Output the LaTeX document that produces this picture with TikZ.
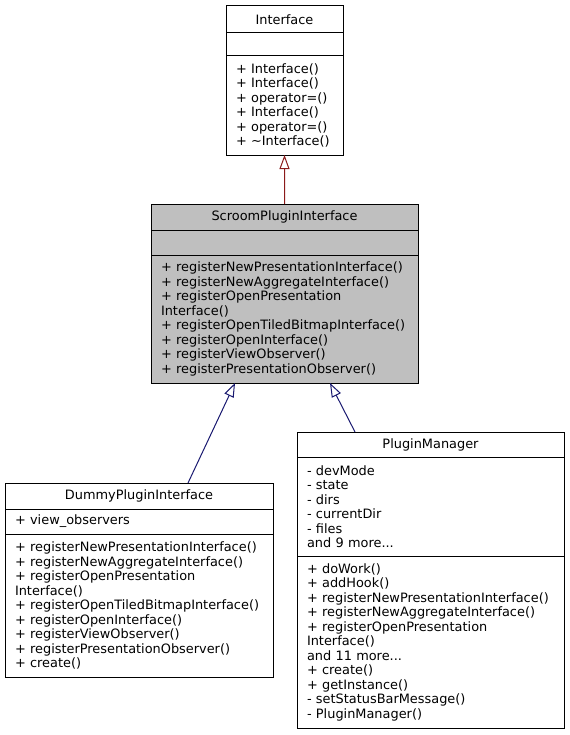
\documentclass[tikz,border=0pt]{standalone}
\usepackage{fontspec}
\setmainfont{DejaVu Sans}
\usetikzlibrary{arrows.meta,positioning,calc}
\definecolor{pubblue}{HTML}{191970}
\definecolor{privred}{HTML}{8B1A1A}
\definecolor{basegray}{HTML}{BFBFBF}
\tikzset{
  classbox/.style={draw=black, line width=1bp, outer sep=0pt, inner sep=0pt,
    font=\fontsize{12.9bp}{14.5bp}\selectfont},
  classname/.style={classbox, minimum height=26bp},
  classpart/.style={classbox, align=left, inner xsep=10bp, inner ysep=6bp},
  inherit/.style={line width=1bp, -{Triangle[open,length=14bp,width=10bp,fill=white]}}
}

\begin{document}
\begin{tikzpicture}[x=1bp,y=-1bp]
\useasboundingbox (0,0) rectangle (570,735);

% base class
\node[classname, minimum width=117bp, minimum height=27bp, anchor=north west] (ifName) at (226,6) {Interface};
\node[classpart, text width=97bp, minimum height=23bp, below=0pt of ifName] (ifAttr) {};
\node[classpart, text width=97bp, minimum height=99bp, below=0pt of ifAttr] (ifOps) {%
+ Interface()\\
+ Interface()\\
+ operator=()\\
+ Interface()\\
+ operator=()\\
+ \textasciitilde Interface()};

% the class of this page
\node[classname, fill=basegray, minimum width=267bp, anchor=north west] (scName) at (151,204) {ScroomPluginInterface};
\node[classpart, fill=basegray, text width=247bp, minimum height=25bp, below=0pt of scName] (scAttr) {};
\node[classpart, fill=basegray, text width=247bp, minimum height=128bp, below=0pt of scAttr] (scOps) {%
+ registerNewPresentationInterface()\\
+ registerNewAggregateInterface()\\
+ registerOpenPresentation\\
Interface()\\
+ registerOpenTiledBitmapInterface()\\
+ registerOpenInterface()\\
+ registerViewObserver()\\
+ registerPresentationObserver()};

% derived classes
\node[classname, minimum width=268bp, anchor=north west] (dmName) at (5,483) {DummyPluginInterface};
\node[classpart, text width=248bp, minimum height=25bp, below=0pt of dmName] (dmAttr) {+ view\_observers};
\node[classpart, text width=248bp, minimum height=143bp, below=0pt of dmAttr] (dmOps) {%
+ registerNewPresentationInterface()\\
+ registerNewAggregateInterface()\\
+ registerOpenPresentation\\
Interface()\\
+ registerOpenTiledBitmapInterface()\\
+ registerOpenInterface()\\
+ registerViewObserver()\\
+ registerPresentationObserver()\\
+ create()};

\node[classname, minimum width=267bp, minimum height=25bp, anchor=north west] (pmName) at (297,432) {PluginManager};
\node[classpart, text width=247bp, minimum height=99bp, below=0pt of pmName] (pmAttr) {%
- devMode\\
- state\\
- dirs\\
- currentDir\\
- files\\
and 9 more...};
\node[classpart, text width=247bp, minimum height=172bp, below=0pt of pmAttr] (pmOps) {%
+ doWork()\\
+ addHook()\\
+ registerNewPresentationInterface()\\
+ registerNewAggregateInterface()\\
+ registerOpenPresentation\\
Interface()\\
and 11 more...\\
+ create()\\
+ getInstance()\\
- setStatusBarMessage()\\
- PluginManager()};

% inheritance
\draw[inherit, privred] (scName) -- (ifOps);
\draw[inherit, pubblue] ([xshift=49bp]dmName.north) -- ([xshift=-49.5bp]scOps.south);
\draw[inherit, pubblue] ([xshift=-75.5bp]pmName.north) -- ([xshift=45.5bp]scOps.south);
\end{tikzpicture}
\end{document}
